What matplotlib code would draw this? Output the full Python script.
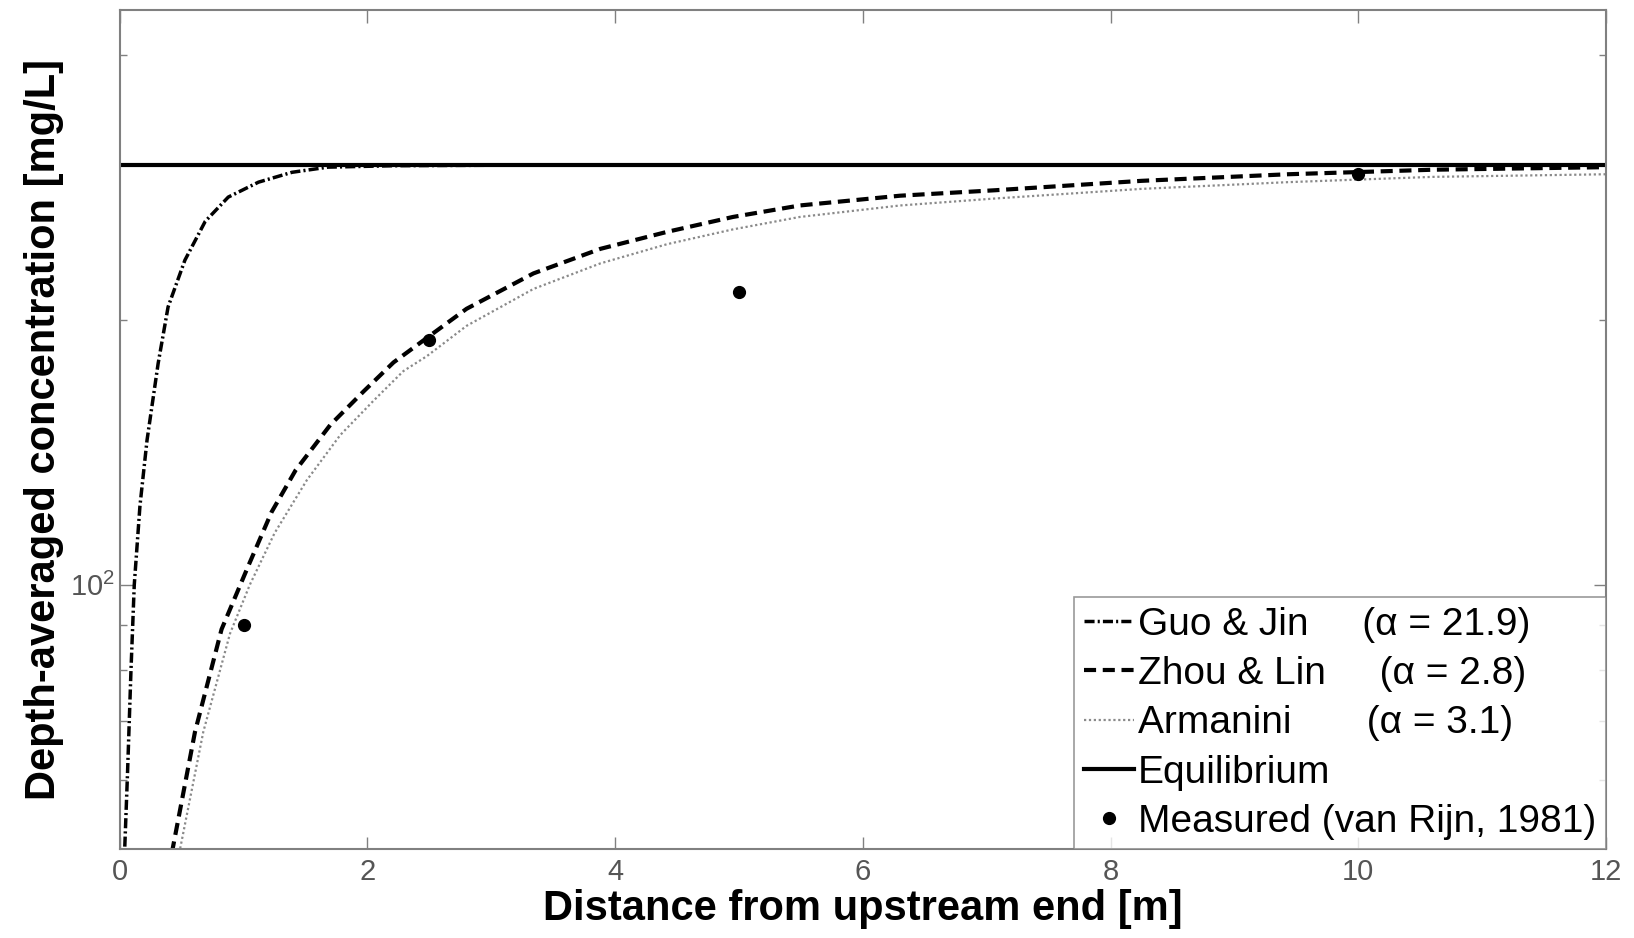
import matplotlib
matplotlib.use('Agg')
from matplotlib import pyplot as plt
from matplotlib.ticker import FixedLocator, LogFormatterSciNotation, NullFormatter

plt.rcParams['font.family'] = ['Liberation Sans', 'DejaVu Sans']

# values
guo_x = [0.035, 0.063, 0.09, 0.117, 0.163, 0.22, 0.31, 0.39, 0.526, 0.69, 0.876, 1.12, 1.39, 1.68, 2.2, 3.0, 12.0]
guo_y = [48, 61.3, 79.6, 100, 123, 146, 178.6, 207, 234, 259, 276, 287, 294.5, 298.5, 299.6, 300, 300]

zhou_x = [0.42, 0.607, 0.822, 1.037, 1.226, 1.42, 1.70, 1.97, 2.21, 2.46, 2.80, 3.34,
          3.88, 4.42, 4.95, 5.49, 6.30, 7.07, 8.25, 9.43, 10.6, 12.0]
zhou_y = [49.5, 68, 89, 105, 121, 135, 152, 166, 179, 190, 206, 226,
          241, 252, 262, 270, 277, 281, 288, 293, 296.5, 298.5]

arm_x = [0.48, 0.674, 0.89, 1.05, 1.25, 1.51, 1.78, 2.05, 2.29, 2.48, 2.80, 3.34,
         3.88, 4.42, 4.95, 5.49, 6.30, 7.07, 8.25, 9.43, 10.6, 12.0]
arm_y = [49.5, 68, 88, 100, 114.5, 131.5, 148, 162, 175, 182, 197, 217,
         232, 244, 253.6, 262, 270, 275, 282, 287, 291, 293]

eq_x = [0, 12]
eq_y = [300, 300]

meas_x = [1, 2.5, 5, 10]
meas_y = [90, 190, 215, 293]

labels = ['Guo & Jin     (α = 21.9)',
          'Zhou & Lin     (α = 2.8)',
          'Armanini       (α = 3.1)',
          'Equilibrium',
          'Measured (van Rijn, 1981)']

fig = plt.figure(figsize=(16.34, 9.38), dpi=100)
ax = fig.add_axes([0.0733, 0.0944, 0.9096, 0.8945])

ax.plot(guo_x, guo_y, color='black', lw=2.5, dashes=(2.9, 0.9, 0.6, 0.9), label=labels[0])
ax.plot(zhou_x, zhou_y, color='black', lw=3, dashes=(2.9, 1.6), label=labels[1])
ax.plot(arm_x, arm_y, color='#8a8a8a', lw=1.6, dashes=(1, 1.2), label=labels[2])
ax.plot(eq_x, eq_y, color='black', lw=3, label=labels[3])
ax.plot(meas_x, meas_y, 'o', color='black', ms=8.5, label=labels[4])

ax.set_yscale('log')
ax.set_xlim(0, 12)
ax.set_ylim(50, 450)
ax.set_xticks(range(0, 13, 2))
ax.yaxis.set_major_locator(FixedLocator([100]))
ax.yaxis.set_major_formatter(LogFormatterSciNotation())
ax.yaxis.set_minor_locator(FixedLocator([60, 70, 80, 90, 200, 300, 400]))
ax.yaxis.set_minor_formatter(NullFormatter())

for s in ax.spines.values():
    s.set_color('#808080')
    s.set_linewidth(1.5)
ax.tick_params(which='both', direction='in', top=True, right=True, colors='#808080',
               labelcolor='#555555', labelsize=21, width=1)
ax.tick_params(which='major', length=9)
ax.tick_params(which='minor', length=5)
ax.tick_params(axis='x', pad=6)

ax.set_xlabel('Distance from upstream end [m]', fontsize=30, fontweight='bold', labelpad=2)
ax.set_ylabel('Depth-averaged concentration [mg/L]', fontsize=30, fontweight='bold', labelpad=4)

leg = ax.legend(loc='lower right', fontsize=28, frameon=True, fancybox=False,
                borderaxespad=0, handlelength=1.3, handletextpad=0.1,
                labelspacing=0.34, borderpad=0.25, edgecolor='#808080')
leg.get_frame().set_linewidth(1.2)

fig.savefig('out.png', dpi=100)
